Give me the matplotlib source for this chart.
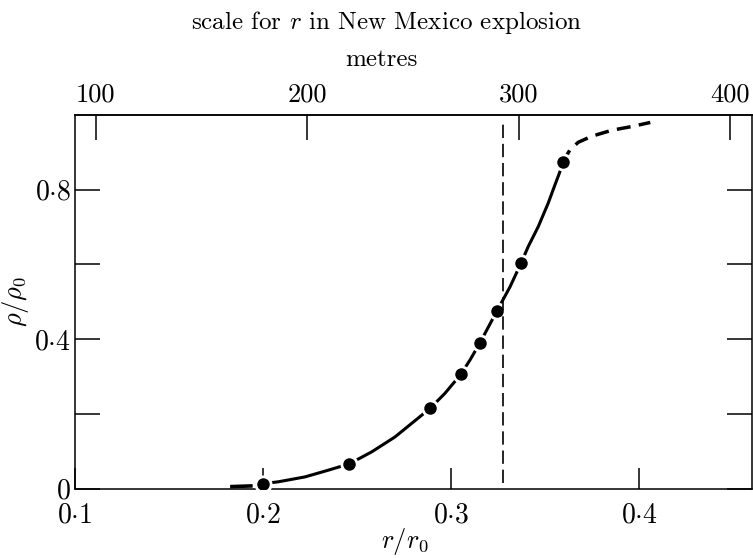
import matplotlib
matplotlib.use("Agg")
import matplotlib.pyplot as plt

plt.rcParams['font.family'] = ['cmr10', 'DejaVu Serif']
plt.rcParams['mathtext.fontset'] = 'cm'
plt.rcParams['axes.formatter.use_mathtext'] = True
plt.rcParams['axes.unicode_minus'] = False

# measured points (r/r0, rho/rho0)
point_x = [0.2002, 0.2459, 0.2890, 0.3053, 0.3154, 0.3245, 0.3374, 0.3594]
point_y = [0.013, 0.066, 0.215, 0.306, 0.390, 0.476, 0.605, 0.873]

# solid curve
curve_x = [0.2002, 0.2082, 0.2223, 0.2347, 0.2459, 0.2578, 0.2702, 0.2790,
           0.2890, 0.2968, 0.3053, 0.3101, 0.3154, 0.3245, 0.3314, 0.3374,
           0.3411, 0.3464, 0.3517, 0.3553, 0.3580, 0.3594]
curve_y = [0.013, 0.018, 0.031, 0.049, 0.066, 0.098, 0.138, 0.174,
           0.215, 0.255, 0.306, 0.344, 0.390, 0.476, 0.540, 0.605,
           0.648, 0.701, 0.764, 0.813, 0.849, 0.873]

# dashed extrapolations
upper_dash_x = [0.3594, 0.3633, 0.3677, 0.3748, 0.3854, 0.3960, 0.4060]
upper_dash_y = [0.873, 0.907, 0.927, 0.943, 0.959, 0.969, 0.980]
lower_dash_x = [0.1825, 0.1945]
lower_dash_y = [0.005, 0.007]

# vertical dashed line position
front_x = 0.3277
front_y = [0.015, 0.975]

# axes
xlim = (0.1, 0.46)
ylim = (0.0, 1.0)
xticks = [0.1, 0.2, 0.3, 0.4]
xticklabels = [r'$0{\cdot}1$', r'$0{\cdot}2$', r'$0{\cdot}3$', r'$0{\cdot}4$']
yticks = [0.0, 0.2, 0.4, 0.6, 0.8]
yticklabels = [r'$0$', '', r'$0{\cdot}4$', '', r'$0{\cdot}8$']
metre_ticks = [100, 200, 300, 400]
metres_per_unit = 889.1
metres_offset = 1.2

fig = plt.figure(figsize=(7.53, 5.58), dpi=100)
W, H = 753, 558
ax = fig.add_axes([75 / W, 1 - 488.5 / H, (751.8 - 75) / W, (488.5 - 115) / H])

ax.plot(curve_x, curve_y, color='black', lw=2.2, solid_capstyle='butt', zorder=2)
ax.plot(upper_dash_x, upper_dash_y, color='black', lw=2.5, dashes=(4, 2.4), zorder=2)
ax.plot(lower_dash_x, lower_dash_y, color='black', lw=2.6, solid_capstyle='butt', zorder=2)
ax.plot(point_x, point_y, 'o', color='black', ms=11, mec='white', mew=2.0, zorder=3)
ax.plot([front_x, front_x], front_y, color='black', lw=1.2, dashes=(8, 3.5), zorder=4)

ax.set_xlim(*xlim)
ax.set_ylim(*ylim)
ax.set_xticks(xticks)
ax.set_xticklabels(xticklabels)
ax.set_yticks(yticks)
ax.set_yticklabels(yticklabels)

for s in ax.spines.values():
    s.set_linewidth(1.1)

ax.tick_params(axis='x', which='both', direction='in', length=15, width=1.1,
               labelsize=20, pad=10, top=False)
ax.tick_params(axis='y', which='both', direction='in', length=18, width=1.1,
               labelsize=20, pad=3, right=True)

sec = ax.secondary_xaxis('top', functions=(lambda x: metres_per_unit * x + metres_offset,
                                           lambda m: (m - metres_offset) / metres_per_unit))
sec.set_xticks(metre_ticks)
sec.set_xticklabels([str(m) for m in metre_ticks])
sec.tick_params(direction='in', length=18, width=1.1, labelsize=19, pad=6)
sec.spines['top'].set_linewidth(1.1)

ax.set_ylabel(r'$\rho/\rho_0$', fontsize=19)
ax.yaxis.set_label_coords((31 - 75) / 677, 0.5)
ax.set_xlabel(r'$r/r_0$', fontsize=19)
ax.xaxis.set_label_coords((405 - 75) / 677, (488.5 - 526) / 373.5)

fig.text(387 / W, 1 - 23 / H, r'scale for $r$ in New Mexico explosion', fontsize=18,
         ha='center', va='center')
fig.text(381 / W, 1 - 60 / H, 'metres', fontsize=18, ha='center', va='center')

fig.savefig('out.png', dpi=100)
